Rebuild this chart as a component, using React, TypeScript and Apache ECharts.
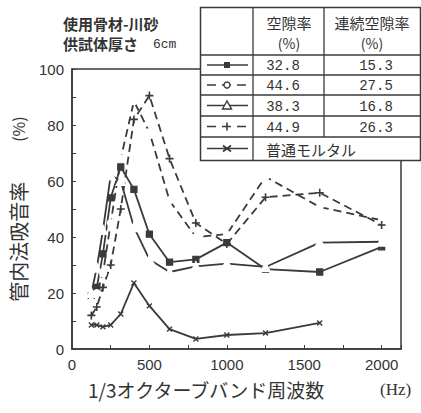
import React, { useEffect, useRef } from "react";
import * as echarts from "echarts";

// 1/3 octave band centre frequencies (Hz)
const freqs = [125, 160, 200, 250, 315, 400, 500, 630, 800, 1000, 1250, 1600, 2000];
// 空隙率 32.8 / 連続 15.3 (solid, filled square)
const s328 = [19, 22, 34, 54, 65, 57, 41, 31, 32, 38, 28.5, 27.5, 36.5];
// 空隙率 44.6 / 連続 27.5 (dashed, open circle)
const s446 = [17, 20, 27, 45, 68, 88.5, 77.5, 53, 40, 41, 61.5, 50.7, 46];
// 空隙率 38.3 / 連続 16.8 (solid, open triangle)
const s383 = [20, 29, 42.5, 62, 60, 43.5, 32, 27.5, 29.5, 30.5, 29.3, 38, 38.3];
// 空隙率 44.9 / 連続 26.3 (dashed, plus)
const s449 = [12, 15, 22, 30, 50, 82, 90.5, 68, 45, 37.5, 54.2, 55.8, 44.3];
// 普通モルタル (solid, x) 125..1600
const mortar = [8.6, 8.6, 7.9, 8.6, 12.5, 23.6, 15.4, 7.1, 3.6, 5, 5.7, 9.3];

const xTicks = [0, 500, 1000, 1500, 2000];
const yTicks = [0, 20, 40, 60, 80, 100];

const tableRows = [
  ["32.8", "15.3"],
  ["44.6", "27.5"],
  ["38.3", "16.8"],
  ["44.9", "26.3"],
];
const mortarLabel = "普通モルタル";

const C = "#3a3a3a";
const TXT = "#333";
const PLUS = "path://M4,0h2v10h-2zM0,4h10v2h-10z";

function pairs(vals: number[]) {
  return vals.map((v, i) => [freqs[i], v]);
}

function mk(vals: number[], symbol: string, dashed: boolean, size: number, extra: any = {}) {
  return {
    type: "line",
    data: pairs(vals),
    symbol,
    symbolSize: size,
    lineStyle: { color: C, width: 1.8, type: dashed ? [8, 5] : "solid" },
    itemStyle: { color: C, borderColor: C, borderWidth: 1.3 },
    z: 3,
    ...extra,
  };
}

export default function App() {
  const ref = useRef<HTMLDivElement>(null);
  useEffect(() => {
    const chart = echarts.init(ref.current!, null, { renderer: "svg" });
    const rowY = [55, 75, 95, 116, 137, 160];
    const tableEls: any[] = [];
    tableEls.push({
      type: "rect",
      shape: { x: 200.5, y: 7.5, width: 220, height: 153 },
      style: { fill: "#fff", stroke: C, lineWidth: 1.5 },
    });
    rowY.slice(0, 5).forEach((y) =>
      tableEls.push({
        type: "line",
        shape: { x1: 200.5, y1: y, x2: 420.5, y2: y },
        style: { stroke: C, lineWidth: 1.3 },
      })
    );
    tableEls.push({ type: "line", shape: { x1: 253, y1: 7.5, x2: 253, y2: 160.5 }, style: { stroke: C, lineWidth: 1.3 } });
    tableEls.push({ type: "line", shape: { x1: 324, y1: 7.5, x2: 324, y2: 137 }, style: { stroke: C, lineWidth: 1.3 } });
    const txt = (text: string, x: number, y: number, font: string, align = "center") => ({
      type: "text",
      style: {
        text, x, y, font, fill: TXT,
        align, verticalAlign: "middle", textAlign: align, textVerticalAlign: "middle",
      },
    });
    const cjk = '"Noto Sans CJK JP", sans-serif';
    tableEls.push(txt("空隙率", 289, 22, `15px ${cjk}`));
    tableEls.push(txt("(%)", 289, 43, `14px ${cjk}`));
    tableEls.push(txt("連続空隙率", 372, 22, `15px ${cjk}`));
    tableEls.push(txt("(%)", 372, 43, `14px ${cjk}`));
    tableRows.forEach((r, i) => {
      const cy = (rowY[i] + rowY[i + 1]) / 2 + 1;
      tableEls.push(txt(r[0], 283, cy, `14px "Liberation Mono", monospace`));
      tableEls.push(txt(r[1], 376, cy, `14px "Liberation Mono", monospace`));
    });
    tableEls.push(txt(mortarLabel, 266, 149, `15px ${cjk}`, "left"));
    // legend swatches
    const cys = rowY.slice(0, 5).map((y, i) => (y + rowY[i + 1]) / 2);
    const dashedRow = [false, true, false, true, false];
    cys.forEach((cy, i) => {
      tableEls.push({
        type: "line",
        shape: { x1: 207, y1: cy, x2: 248, y2: cy },
        style: { stroke: C, lineWidth: 1.6, lineDash: dashedRow[i] ? [9, 6] : null },
      });
    });
    tableEls.push({ type: "rect", shape: { x: 224, y: cys[0] - 3, width: 6, height: 6 }, style: { fill: C } });
    tableEls.push({ type: "circle", shape: { cx: 227, cy: cys[1], r: 3 }, style: { fill: "#fff", stroke: C, lineWidth: 1.4 } });
    tableEls.push({
      type: "polygon",
      shape: { points: [[227, cys[2] - 4.5], [222.5, cys[2] + 3.5], [231.5, cys[2] + 3.5]] },
      style: { fill: "#fff", stroke: C, lineWidth: 1.4 },
    });
    tableEls.push({ type: "line", shape: { x1: 227, y1: cys[3] - 4, x2: 227, y2: cys[3] + 4 }, style: { stroke: C, lineWidth: 1.6 } });
    tableEls.push({ type: "line", shape: { x1: 223, y1: cys[4] - 3, x2: 231, y2: cys[4] + 3 }, style: { stroke: C, lineWidth: 1.6 } });
    tableEls.push({ type: "line", shape: { x1: 223, y1: cys[4] + 3, x2: 231, y2: cys[4] - 3 }, style: { stroke: C, lineWidth: 1.6 } });

    const option: any = {
      animation: false,
      backgroundColor: "#fff",
      grid: { left: 72, top: 69, right: 20, bottom: 64, show: true, borderColor: C, borderWidth: 1.5, backgroundColor: "transparent" },
      xAxis: {
        type: "value",
        min: 0,
        max: 2125,
        interval: 250,
        axisLine: { lineStyle: { color: C, width: 1.5 } },
        axisTick: { inside: true, length: 4, lineStyle: { color: C } },
        splitLine: { show: false },
        axisLabel: {
          color: "#333",
          fontSize: 15,
          fontFamily: "Liberation Sans, Arial, sans-serif",
          margin: 8,
          formatter: (v: number) => (xTicks.includes(v) ? String(v) : ""),
        },
      },
      yAxis: {
        type: "value",
        min: 0,
        max: 100,
        interval: 10,
        name: "管内法吸音率\u3000\u3000{p|(%)}",
        nameLocation: "middle",
        nameRotate: 90,
        nameGap: 43,
        nameTextStyle: {
          color: TXT,
          fontSize: 20,
          fontFamily: "Noto Sans CJK JP, sans-serif",
          rich: { p: { fontSize: 16, color: TXT, fontFamily: "Noto Sans CJK JP, sans-serif" } },
        },
        axisLine: { show: true, lineStyle: { color: C, width: 1.5 } },
        axisTick: { show: true, inside: true, length: 4, lineStyle: { color: C } },
        splitLine: { show: false },
        axisLabel: {
          color: "#333",
          fontSize: 15,
          fontFamily: "Liberation Sans, Arial, sans-serif",
          margin: 8,
          formatter: (v: number) => (yTicks.includes(v) ? String(v) : ""),
        },
      },
      series: [
        mk(s328, "rect", false, 6),
        mk(s446, "emptyCircle", true, 6, { itemStyle: { color: "#fff", borderColor: C, borderWidth: 1.3 } }),
        mk(s383, "emptyTriangle", false, 8, { itemStyle: { color: "#fff", borderColor: C, borderWidth: 1.3 } }),
        mk(s449, PLUS, true, 8, { itemStyle: { color: C, borderWidth: 0 } }),
        mk(mortar, PLUS, false, 7, { symbolRotate: 45, itemStyle: { color: C, borderWidth: 0 } }),
      ],
      graphic: [
        txt("使用骨材-川砂", 63, 23, `bold 15px ${cjk}`, "left"),
        txt("供試体厚さ", 63, 43, `bold 15px ${cjk}`, "left"),
        txt("6cm", 153, 44, `13px "Liberation Mono", monospace`, "left"),
        txt("1/3オクターブバンド周波数", 88, 389, `19px ${cjk}`, "left"),
        txt("(Hz)", 380, 389, `17px "Liberation Serif", serif`, "left"),
        { type: "group", z: 100, children: tableEls },
      ],
    };
    chart.setOption(option);
    return () => chart.dispose();
  }, []);
  return <div ref={ref} style={{ width: 421, height: 413, position: "absolute", left: 0, top: 0 }} />;
}
